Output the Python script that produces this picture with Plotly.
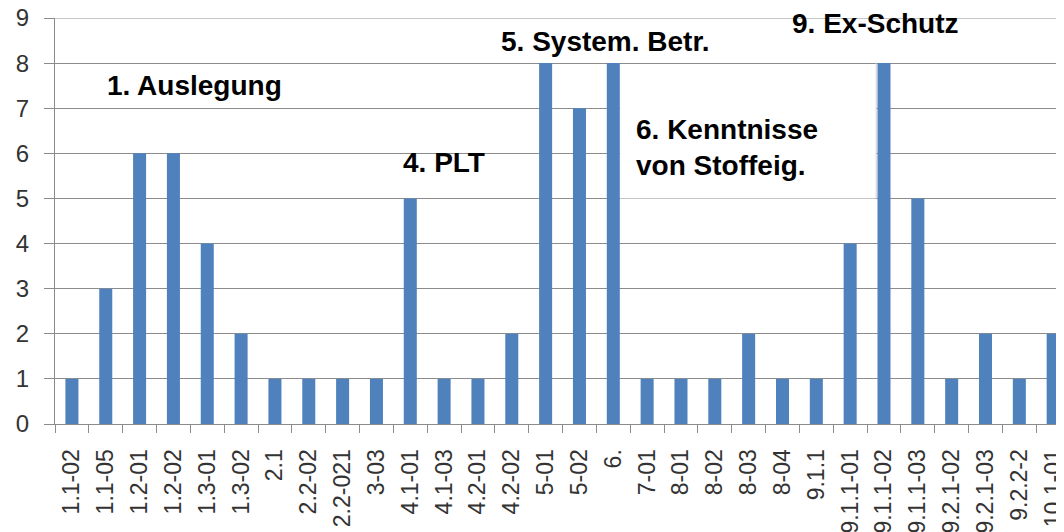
import plotly.graph_objects as go

categories = ["1.1-02", "1.1-05", "1.2-01", "1.2-02", "1.3-01", "1.3-02", "2.1", "2.2-02",
              "2.2-021", "3-03", "4.1-01", "4.1-03", "4.2-01", "4.2-02", "5-01", "5-02", "6.",
              "7-01", "8-01", "8-02", "8-03", "8-04", "9.1.1", "9.1.1-01", "9.1.1-02",
              "9.1.1-03", "9.2.1-02", "9.2.1-03", "9.2.2-2", "10.1-01"]
values = [1, 3, 6, 6, 4, 2, 1, 1, 1, 1, 5, 1, 1, 2, 8, 7, 8, 1, 1, 1, 2, 1, 1, 4, 8, 5, 1, 2, 1, 2]

group_labels = ["1. Auslegung", "4. PLT", "5. System. Betr.", "9. Ex-Schutz",
                "6. Kenntnisse<br>von Stoffeig."]
label_x = [3.61, 11.0, 15.76, 23.72, 16.61]
label_y = [7.51, 5.79, 8.47, 8.87, 6.12]
label_anchor = ["center", "center", "center", "center", "left"]

fig = go.Figure()
fig.add_trace(go.Bar(x=categories, y=values, marker=dict(color="#4F81BD", line=dict(width=0))))

# top gridline at 9
fig.add_shape(type="line", xref="paper", yref="y", x0=0, x1=1, y0=9, y1=9,
              line=dict(color="#8c8c8c", width=1), layer="below")

# white box behind the "6." label
fig.add_shape(type="rect", xref="x", yref="y", x0=16.2, x1=23.77, y0=5.0, y1=7.95,
              fillcolor="white", line=dict(width=0), layer="above")
fig.add_shape(type="line", xref="x", yref="y", x0=23.77, x1=23.77, y0=5.0, y1=8.0,
              line=dict(color="#d0d0d0", width=1), layer="above")

for t, x, y, a in zip(group_labels, label_x, label_y, label_anchor):
    fig.add_annotation(x=x, y=y, xref="x", yref="y", text=t, showarrow=False,
                       xanchor=a, yanchor="middle", align="left",
                       font=dict(family="Liberation Sans", size=28, color="black", weight="bold"))

fig.update_layout(
    width=1064, height=532,
    margin=dict(l=47, r=8, t=10, b=116, autoexpand=False),
    plot_bgcolor="white", paper_bgcolor="white",
    bargap=0.615, showlegend=False,
    font=dict(family="Liberation Sans", color="#333333"),
)
fig.update_xaxes(
    type="category", range=[-0.5, 29.32], tickangle=-90, automargin=False,
    tickson="boundaries", ticks="outside", ticklen=8, tickcolor="#8c8c8c",
    showline=True, linecolor="#8c8c8c", linewidth=1, showgrid=False,
    tickfont=dict(size=23, color="#333333"), ticklabelstandoff=15,
    ticklabeloverflow="allow",
)
fig.update_yaxes(
    range=[0, 9], dtick=1, ticks="outside", ticklen=10, tickcolor="#8c8c8c",
    showline=True, linecolor="#8c8c8c", linewidth=1, automargin=False,
    showgrid=True, gridcolor="#8c8c8c", gridwidth=1, zeroline=False,
    tickfont=dict(size=24, color="#333333"), ticklabelstandoff=10,
    ticklabeloverflow="allow",
)

fig.write_html("out.html")
